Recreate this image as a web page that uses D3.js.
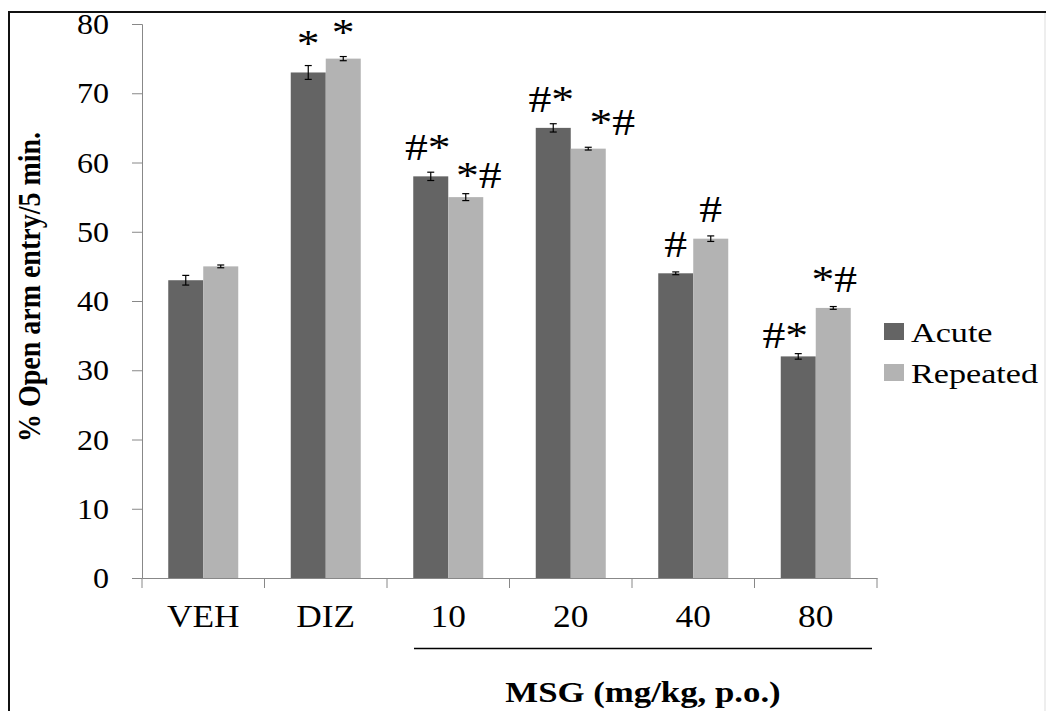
<!DOCTYPE html>
<html>
<head>
<meta charset="utf-8">
<script src="https://cdn.jsdelivr.net/npm/d3@7"></script>
<style>
  body { margin: 0; background: #fff; }
  text { font-family: "Times New Roman", "Liberation Serif", serif; }
</style>
</head>
<body>
<div id="chart"></div>
<script>
// data
const categories = ["VEH", "DIZ", "10", "20", "40", "80"];
const series = ["Acute", "Repeated"];
const acuteValues = [43, 73, 58, 65, 44, 32];
const acuteErrors = [0.7, 1.0, 0.6, 0.6, 0.2, 0.4];
const repeatedValues = [45, 75, 55, 62, 49, 39];
const repeatedErrors = [0.2, 0.3, 0.5, 0.2, 0.4, 0.2];
const acuteMarks = ["", "*", "#*", "#*", "#", "#*"];
const repeatedMarks = ["", "*", "*#", "*#", "#", "*#"];
const yTicks = [0, 10, 20, 30, 40, 50, 60, 70, 80];

const colors = { Acute: "#646464", Repeated: "#b3b3b3" };

const width = 1046, height = 711;
const plot = { left: 142, right: 877, top: 24, bottom: 578 };

// the source picture is a bit wider than tall, text looks stretched
function stretch(sel, sx) {
  sel.each(function () {
    const t = d3.select(this);
    const tx = +t.attr("x") || 0, ty = +t.attr("y") || 0;
    t.attr("x", 0).attr("y", 0)
      .attr("transform", `translate(${tx},${ty}) scale(${sx},1)`);
  });
}

const rows = categories.map((c, i) => ({
  category: c,
  bars: [
    { series: "Acute", value: acuteValues[i], err: acuteErrors[i], mark: acuteMarks[i] },
    { series: "Repeated", value: repeatedValues[i], err: repeatedErrors[i], mark: repeatedMarks[i] }
  ]
}));

const svg = d3.select("#chart")
  .append("svg")
  .attr("width", width)
  .attr("height", height);

// outer frame (left + top dark, right faint)
svg.append("line").attr("x1", 8).attr("x2", width).attr("y1", 12).attr("y2", 12)
  .attr("stroke", "#111").attr("stroke-width", 2);
svg.append("line").attr("x1", 9).attr("x2", 9).attr("y1", 11).attr("y2", height)
  .attr("stroke", "#111").attr("stroke-width", 2);
svg.append("line").attr("x1", 1045).attr("x2", 1045).attr("y1", 13).attr("y2", height)
  .attr("stroke", "#dddddd").attr("stroke-width", 1);

const x = d3.scaleBand()
  .domain(categories)
  .range([plot.left, plot.right])
  .padding(0);

const xs = d3.scaleBand()
  .domain(series)
  .range([0, x.bandwidth()])
  .paddingInner(0)
  .paddingOuter(0.75);

const y = d3.scaleLinear()
  .domain([0, 80])
  .range([plot.bottom, plot.top]);

// y axis
const yAxis = svg.append("g")
  .attr("transform", `translate(${plot.left},0)`)
  .call(d3.axisLeft(y).tickValues(yTicks).tickSize(10).tickPadding(23));
yAxis.select(".domain").attr("stroke", "#888");
yAxis.selectAll(".tick line").attr("stroke", "#888");
yAxis.selectAll(".tick text")
  .attr("fill", "#000")
  .style("font-family", '"Times New Roman", "Liberation Serif", serif')
  .style("font-size", "30px");
stretch(yAxis.selectAll(".tick text"), 1.07);

// x axis: labels centred, ticks on band edges
const xAxis = svg.append("g")
  .attr("transform", `translate(0,${plot.bottom})`)
  .call(d3.axisBottom(x).tickSize(0));
xAxis.select(".domain").attr("stroke", "#888");
xAxis.selectAll(".tick text")
  .attr("y", 49).attr("dy", 0)
  .attr("fill", "#000")
  .style("font-family", '"Times New Roman", "Liberation Serif", serif')
  .style("font-size", "31px");
stretch(xAxis.selectAll(".tick text"), 1.14);

const edges = categories.map(c => x(c)).concat([x.range()[1]]);
xAxis.selectAll(".edge")
  .data(edges)
  .join("line")
  .attr("class", "edge")
  .attr("x1", d => d).attr("x2", d => d)
  .attr("y1", 0).attr("y2", 10)
  .attr("stroke", "#888");

// bars
const groups = svg.append("g")
  .selectAll(".group")
  .data(rows)
  .join("g")
  .attr("class", "group")
  .attr("transform", d => `translate(${x(d.category)},0)`);

groups.selectAll("rect")
  .data(d => d.bars)
  .join("rect")
  .attr("x", d => xs(d.series))
  .attr("y", d => y(d.value))
  .attr("width", xs.bandwidth())
  .attr("height", d => y(0) - y(d.value))
  .attr("fill", d => colors[d.series]);

// error bars
const eb = groups.selectAll(".err")
  .data(d => d.bars)
  .join("g")
  .attr("class", "err")
  .attr("stroke", "#000")
  .attr("stroke-width", 1.2);

eb.append("line")
  .attr("x1", d => xs(d.series) + xs.bandwidth() / 2)
  .attr("x2", d => xs(d.series) + xs.bandwidth() / 2)
  .attr("y1", d => y(d.value + d.err))
  .attr("y2", d => y(d.value - d.err));
[1, -1].forEach(s => {
  eb.append("line")
    .attr("x1", d => xs(d.series) + xs.bandwidth() / 2 - 3.5)
    .attr("x2", d => xs(d.series) + xs.bandwidth() / 2 + 3.5)
    .attr("y1", d => y(d.value + s * d.err))
    .attr("y2", d => y(d.value + s * d.err));
});

// significance marks, hand nudged like in the original figure
const nudge = {
  "10-Acute": [-3, 0], "10-Repeated": [13, 6],
  "20-Acute": [-2, 0], "20-Repeated": [24, 0],
  "40-Acute": [0, -3], "40-Repeated": [0, -2],
  "80-Acute": [-13, 6], "80-Repeated": [1, -3],
  "DIZ-Acute": [0, 2], "DIZ-Repeated": [0, 0]
};
const marks = groups.selectAll(".mark")
  .data(d => d.bars.filter(b => b.mark).map(b => ({ ...b, category: d.category })))
  .join("text")
  .attr("class", "mark")
  .attr("x", d => xs(d.series) + xs.bandwidth() / 2 + (nudge[d.category + "-" + d.series] || [0, 0])[0])
  .attr("y", d => y(d.value + d.err) - 12 + (nudge[d.category + "-" + d.series] || [0, 0])[1])
  .attr("text-anchor", "middle")
  .style("font-size", "38px")
  .text(d => d.mark);
stretch(marks, 1.2);

// bracket under the MSG doses
svg.append("line")
  .attr("x1", x("10") + 27).attr("x2", x.range()[1] - 5)
  .attr("y1", 648.5).attr("y2", 648.5)
  .attr("stroke", "#000").attr("stroke-width", 1.3);

const xTitle = svg.append("text")
  .attr("x", 643).attr("y", 702)
  .attr("text-anchor", "middle")
  .style("font-size", "29px")
  .style("font-weight", "bold")
  .text("MSG (mg/kg, p.o.)");
stretch(xTitle, 1.2);

svg.append("text")
  .attr("transform", `translate(40,${(plot.top + plot.bottom) / 2 - 14}) rotate(-90) scale(1,1.15)`)
  .attr("text-anchor", "middle")
  .style("font-size", "28px")
  .style("font-weight", "bold")
  .text("%  Open arm entry/5 min.");

// legend
const legend = svg.append("g")
  .attr("transform", "translate(884,323)");
const li = legend.selectAll("g")
  .data(series)
  .join("g")
  .attr("transform", (d, i) => `translate(0,${i * 41})`);
li.append("rect")
  .attr("width", 20).attr("height", 17)
  .attr("fill", d => colors[d]);
const lt = li.append("text")
  .attr("x", 27).attr("y", 19)
  .style("font-size", "28px")
  .text(d => d);
stretch(lt, 1.22);
</script>
</body>
</html>
